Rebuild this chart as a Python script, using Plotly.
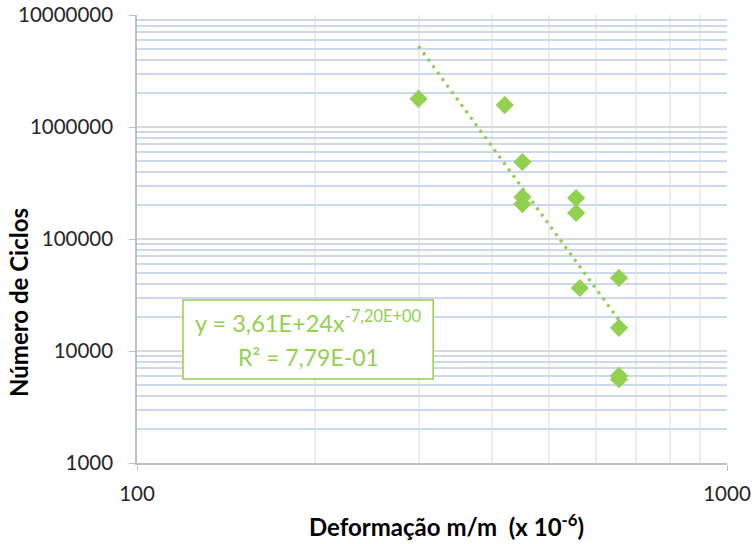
import plotly.graph_objects as go

# Fatigue test results: strain (x 10^-6 m/m) vs. number of cycles to failure
deformacao = [300, 420, 450, 450, 450, 555, 555, 563, 656, 656, 656, 656]
ciclos = [1780000, 1570000, 487000, 237000, 205000, 232000, 171000, 36500, 44900, 16100, 6000, 5600]

# Power-law trendline  N = A * e^B
coef_a = 3.61e24
coef_b = -7.20
r2_text = "7,79E-01"

green = "#92D050"
font_family = "Lato, Open Sans, sans-serif"

x_min, x_max = min(deformacao), max(deformacao)
trend_x = [x_min, x_max]
trend_y = [coef_a * v ** coef_b for v in trend_x]

fig = go.Figure()

fig.add_trace(go.Scatter(
    x=trend_x, y=trend_y, mode="lines",
    line=dict(color=green, width=3.2, dash="3px,5px"),
    hoverinfo="skip", showlegend=False,
))

fig.add_trace(go.Scatter(
    x=deformacao, y=ciclos, mode="markers",
    marker=dict(symbol="diamond", size=14, color=green, line=dict(width=0)),
    showlegend=False,
))

# equation box
fig.add_shape(
    type="rect", xref="paper", yref="paper",
    x0=0.078, x1=0.502, y0=0.1875, y1=0.364,
    line=dict(color=green, width=1.5), fillcolor="white", layer="above",
)
fig.add_annotation(
    xref="paper", yref="paper", x=0.29, y=0.315,
    text="y = 3,61E+24x<sup>-7,20E+00</sup>", showarrow=False,
    font=dict(family=font_family, size=23.5, color=green),
    xanchor="center", yanchor="middle",
)
fig.add_annotation(
    xref="paper", yref="paper", x=0.29, y=0.237,
    text="R² = " + r2_text, showarrow=False,
    font=dict(family=font_family, size=23, color=green),
    xanchor="center", yanchor="middle",
)

tick_font = dict(family=font_family, size=20.5, color="#262626")
title_font = dict(family=font_family, size=24, color="#000000")

# axis titles
fig.add_annotation(
    xref="paper", yref="paper", x=0.524, y=-0.138,
    text="<b>Deformação m/m  (x 10<sup>-6</sup>)</b>", showarrow=False,
    font=title_font, xanchor="center", yanchor="middle",
)
fig.add_annotation(
    xref="paper", yref="paper", x=-0.202, y=0.359,
    text="<b>Número de Ciclos</b>", showarrow=False, textangle=-90,
    font=title_font, xanchor="center", yanchor="middle",
)

fig.update_layout(
    width=756, height=544,
    margin=dict(l=137, r=29, t=15, b=81),
    paper_bgcolor="white", plot_bgcolor="white",
    font=dict(family=font_family),
    xaxis=dict(
        type="log", range=[2, 3], dtick=1, tickformat="d", automargin=False,
        showline=True, linecolor="#BFBFBF", linewidth=1.5,
        ticks="outside", ticklen=6, tickcolor="#BFBFBF", ticklabelstandoff=6,
        showgrid=True, gridcolor="#EDEDED", gridwidth=1.5,
        minor=dict(dtick="D1", showgrid=True, gridcolor="#EDEDED", gridwidth=1.5, ticks=""),
        zeroline=False, tickfont=tick_font,
    ),
    yaxis=dict(
        type="log", range=[3, 7], dtick=1, tickformat="d", automargin=False,
        showline=True, linecolor="#BFBFBF", linewidth=1.5,
        ticks="outside", ticklen=6, tickcolor="#BFBFBF", ticklabelstandoff=12,
        showgrid=True, gridcolor="#D9D9D9", gridwidth=1.5,
        minor=dict(dtick="D1", showgrid=True, gridcolor="#CCD9EC", gridwidth=1.5, ticks=""),
        zeroline=False, tickfont=tick_font,
    ),
)

fig.write_html("out.html")
